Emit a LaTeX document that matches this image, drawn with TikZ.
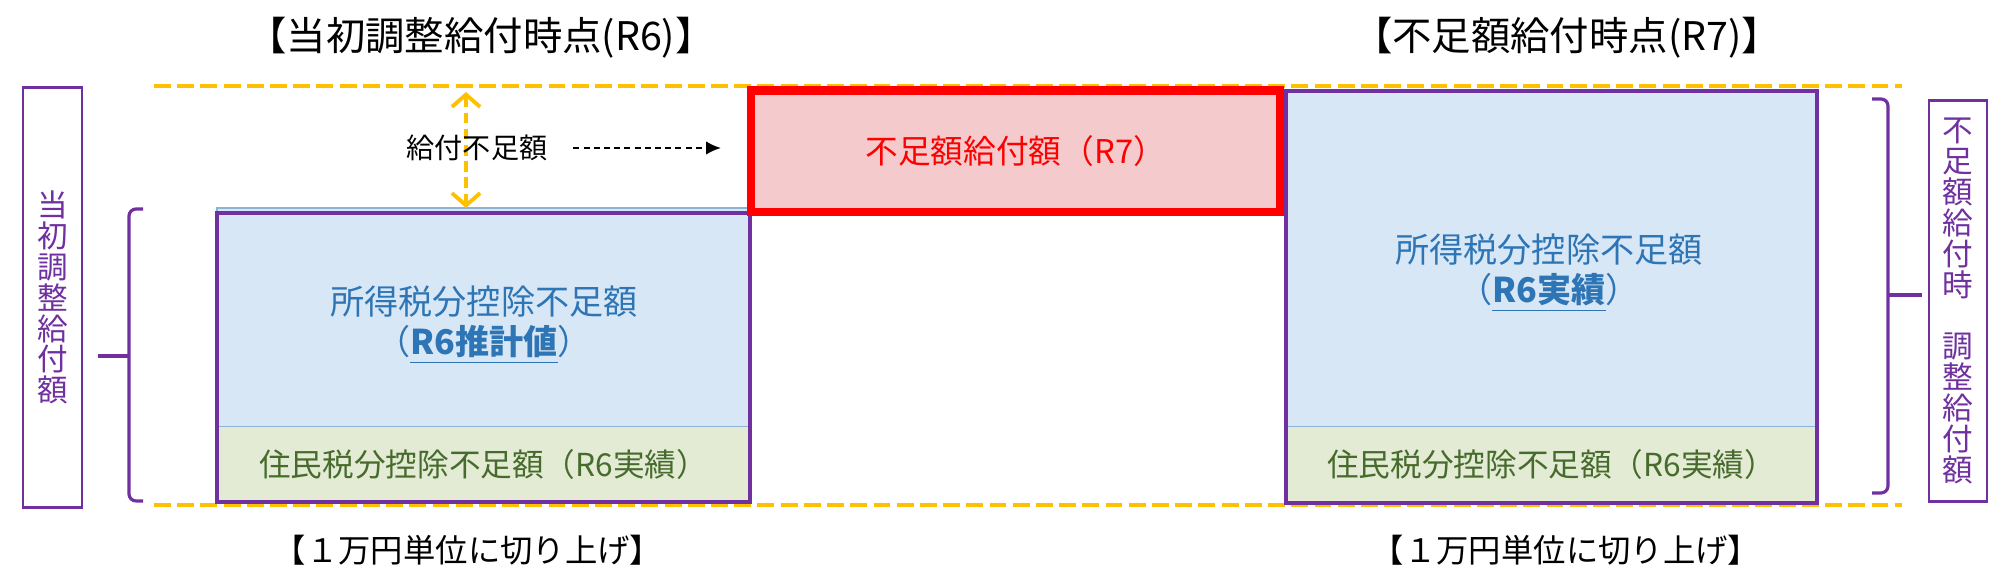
\documentclass[tikz,border=0pt]{standalone}
\usepackage{fontspec}
\setmainfont{Noto Sans CJK JP}
\usetikzlibrary{positioning,arrows.meta}
\definecolor{kpurple}{HTML}{7030A0}
\definecolor{kgold}{HTML}{FFC000}
\definecolor{kblue}{HTML}{2E75B6}
\definecolor{kbluefill}{HTML}{D8E7F5}
\definecolor{kgreen}{HTML}{476B2C}
\definecolor{kgreenfill}{HTML}{E3EBD5}
\definecolor{kred}{HTML}{FF0000}
\definecolor{kpink}{HTML}{F4CACD}

\begin{document}
\begin{tikzpicture}[x=0.01cm, y=-0.01cm,
	every node/.style={inner sep=0pt, outer sep=0pt},
	guide/.style={draw=kgold, line width=1.4pt, dash pattern=on 4.8pt off 1.8pt},
	taxbox/.style={fill=kbluefill, draw=kblue!55, line width=0.3pt, anchor=north west},
	resbox/.style={fill=kgreenfill, draw=kblue!55, line width=0.3pt, text=kgreen, font=\fontsize{9}{11}\selectfont},
	taxtext/.style={text=kblue, align=center, font=\fontsize{9.7}{11.4}\selectfont},
	frame/.style={draw=kpurple, line width=1.2pt},
	gapbox/.style={fill=kpink, draw=kred, line width=2.3pt, anchor=north west, text=kred, font=\fontsize{9.3}{11}\selectfont},
	gaparrow/.style={draw=kgold, line width=1.1pt, dash pattern=on 3pt off 1.6pt, {Straight Barb[length=3.5pt,width=8pt]}-{Straight Barb[length=3.5pt,width=8pt]}},
	brace/.style={draw=kpurple, line width=0.9pt, rounded corners=2pt},
	sidebox/.style={draw=kpurple, line width=0.8pt, text=kpurple, align=center, font=\fontsize{8.7}{8.8}\selectfont},
	title/.style={font=\fontsize{11.2}{13}\selectfont},
	note/.style={font=\fontsize{9.2}{11}\selectfont}]
	\fill[white] (0,0) rectangle (2000,568);
	\useasboundingbox (0,0) rectangle (2000,568);

	% yellow guide lines
	\coordinate (gl) at (154,86);
	\coordinate (gr) at (1902,86);
	\coordinate (bl) at (154,505);
	\coordinate (br) at (1902,505);
	\draw[guide] (gl) -- (gr);
	\draw[guide] (bl) -- (br);

	% R6
	\node[taxbox, minimum width=5.33cm, minimum height=2.18cm] (r6tax) at (217,208) {};
	\node[resbox, minimum width=5.33cm, minimum height=0.76cm, below=0pt of r6tax] (r6res) {住民税分控除不足額（R6実績）};
	\draw[frame] ([yshift=-0.05cm]r6tax.north west) rectangle (r6res.south east);
	\node[taxtext] (r6taxtext) at (484,325) {所得税分控除不足額\\（\underline{\textbf{R6推計値}}）};

	% R7
	\node[taxbox, minimum width=5.31cm, minimum height=3.35cm] (r7tax) at (1286,91) {};
	\node[resbox, minimum width=5.31cm, minimum height=0.77cm, below=0pt of r7tax] (r7res) {住民税分控除不足額（R6実績）};
	\draw[frame] (r7tax.north west) rectangle (r7res.south east);
	\node[taxtext] (r7taxtext) at (1549,273) {所得税分控除不足額\\（\underline{\textbf{R6実績}}）};

	\node[gapbox, minimum width=5.29cm, minimum height=1.21cm] (r7gap) at (751,90.5) {不足額給付額（R7）};

	% gap
	\coordinate (gaptop) at (466,92);
	\draw[gaparrow] (gaptop) -- (gaptop |- r6tax.north);
	\node[font=\fontsize{8}{10}\selectfont] (gaplabel) at (477,148) {給付不足額};
	\draw[-{Latex[length=4.2pt,width=3.8pt]}, line width=0.6pt, dash pattern=on 1.7pt off 1.2pt, shorten <=0.26cm, shorten >=0.3cm] (gaplabel.east) -- (gaplabel.east -| r7gap.west);

	% braces
	\draw[brace] (143,209) -- (129,209) -- (129,501) -- (143,501);
	\draw[brace] (129,356) -- (98,356);
	\draw[brace] (1872,99) -- (1888,99) -- (1888,493) -- (1872,493);
	\draw[brace] (1888,295) -- (1922,295);

	\node[sidebox, minimum width=0.59cm, minimum height=4.19cm] (r6sum) at (52.5,297.5) {当\\初\\調\\整\\給\\付\\額};
	\node[sidebox, minimum width=0.58cm, minimum height=4.00cm] (r7sum) at (1958,301) {不\\足\\額\\給\\付\\時\\　\\調\\整\\給\\付\\額};

	% titles
	\node[title] (r6title) at (481,38) {【当初調整給付時点(R6)】};
	\node[title] (r7title) at (1567,38) {【不足額給付時点(R7)】};
	\node[note] (r6note) at (468,550) {【１万円単位に切り上げ】};
	\node[note] (r7note) at (1566,550) {【１万円単位に切り上げ】};
\end{tikzpicture}
\end{document}
